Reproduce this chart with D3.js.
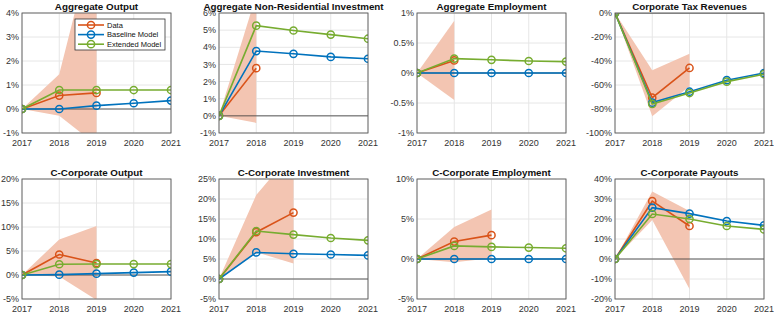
<!DOCTYPE html>
<html>
<head>
<meta charset="utf-8">
<script src="https://cdn.jsdelivr.net/npm/d3@7"></script>
<style>
  body { margin: 0; background: #fff; }
  svg { display: block; font-family: "Liberation Sans", Arial, sans-serif; }
</style>
</head>
<body>
<div id="chart"></div>
<script>
// years on the x axis
const years = [2017, 2018, 2019, 2020, 2021];

const titles = [
  "Aggregate Output", "Aggregate Non-Residential Investment", "Aggregate Employment", "Corporate Tax Revenues",
  "C-Corporate Output", "C-Corporate Investment", "C-Corporate Employment", "C-Corporate Payouts"
];

// y ranges and ticks (percent)
const yDomains = [[-1, 4], [-1, 6], [-1, 1], [-100, 0], [-5, 20], [-5, 25], [-5, 10], [-20, 40]];
const yTicks = [
  [-1, 0, 1, 2, 3, 4],
  [-1, 0, 1, 2, 3, 4, 5, 6],
  [-1, -0.5, 0, 0.5, 1],
  [-100, -80, -60, -40, -20, 0],
  [-5, 0, 5, 10, 15, 20],
  [-5, 0, 5, 10, 15, 20, 25],
  [-5, 0, 5, 10],
  [-20, -10, 0, 10, 20, 30, 40]
];

// Data series (starting 2017)
const dataVals = [
  [0, 0.56, 0.67],
  [0, 2.78],
  [0, 0.21],
  [0, -70.6, -45.8],
  [0, 4.27, 2.5],
  [0, 11.7, 16.6],
  [0, 2.18, 2.98],
  [0, 28.9, 16.5]
];
// confidence band for the data
const bandLo = [
  [0, -0.28, -1.5],
  [0, -0.41],
  [0, -0.45],
  [0, -86, -61],
  [0, -0.3, -5.2],
  [0, 6.7, 3.9],
  [0, -0.4, 0.1],
  [0, 19.5, -15]
];
const bandHi = [
  [0, 1.45, 7.6],
  [0, 7.05],
  [0, 0.87],
  [0, -47.8, -34],
  [0, 7.4, 10.2],
  [0, 21, 32],
  [0, 4.0, 6.2],
  [0, 33.8, 24]
];
const baseline = [
  [0, 0, 0.14, 0.24, 0.35],
  [0, 3.78, 3.62, 3.44, 3.33],
  [0, 0, 0, 0, 0],
  [0, -74.7, -65.6, -56, -50],
  [0, 0.07, 0.28, 0.5, 0.7],
  [0, 6.64, 6.3, 6.13, 5.9],
  [0, 0, 0, 0, 0],
  [0, 25.7, 22.7, 19, 16.8]
];
const extended = [
  [0, 0.79, 0.79, 0.79, 0.79],
  [0, 5.26, 4.98, 4.74, 4.5],
  [0, 0.24, 0.22, 0.2, 0.19],
  [0, -75.8, -66.7, -57.2, -51],
  [0, 2.24, 2.28, 2.28, 2.28],
  [0, 12.0, 11.1, 10.25, 9.66],
  [0, 1.64, 1.51, 1.43, 1.34],
  [0, 22.5, 20, 16.5, 14.8]
];

const seriesNames = ["Data", "Baseline Model", "Extended Model"];
const colors = ["#D95319", "#0072BD", "#77AC30"];

const width = 774, height = 313;
const colLeft = [22, 219, 417, 615];
const plotW = 149;
const rowTop = [13, 179];
const plotH = 120;

const svg = d3.select("#chart").append("svg")
    .attr("width", width)
    .attr("height", height);

titles.forEach((title, i) => {
  const col = i % 4, row = Math.floor(i / 4);
  const g = svg.append("g").attr("transform", `translate(${colLeft[col]},${rowTop[row]})`);

  const x = d3.scaleLinear().domain([2017, 2021]).range([0, plotW]);
  const y = d3.scaleLinear().domain(yDomains[i]).range([plotH, 0]);

  // clip
  g.append("clipPath").attr("id", "clip" + i)
    .append("rect").attr("width", plotW).attr("height", plotH);

  // grid
  g.append("g").selectAll("line").data(years).join("line")
    .attr("x1", d => x(d)).attr("x2", d => x(d))
    .attr("y1", 0).attr("y2", plotH)
    .attr("stroke", "#e6e6e6").attr("stroke-width", 1);
  g.append("g").selectAll("line").data(yTicks[i]).join("line")
    .attr("x1", 0).attr("x2", plotW)
    .attr("y1", d => y(d)).attr("y2", d => y(d))
    .attr("stroke", "#e6e6e6").attr("stroke-width", 1);

  const plot = g.append("g").attr("clip-path", `url(#clip${i})`);

  // band
  const band = d3.area()
    .x((d, j) => x(years[j]))
    .y0((d, j) => y(bandLo[i][j]))
    .y1(d => y(d));
  plot.append("path")
    .datum(bandHi[i])
    .attr("d", band)
    .attr("fill", "#F3C5B2");

  // zero line
  plot.append("line")
    .attr("x1", 0).attr("x2", plotW)
    .attr("y1", y(0)).attr("y2", y(0))
    .attr("stroke", "#333").attr("stroke-width", 0.8);

  const line = d3.line().x((d, j) => x(years[j])).y(d => y(d));
  const series = [dataVals[i], baseline[i], extended[i]];
  series.forEach((vals, s) => {
    const sg = plot.append("g");
    sg.append("path")
      .datum(vals)
      .attr("d", line)
      .attr("fill", "none")
      .attr("stroke", colors[s])
      .attr("stroke-width", 1.6);
    sg.selectAll("circle").data(vals).join("circle")
      .attr("cx", (d, j) => x(years[j]))
      .attr("cy", d => y(d))
      .attr("r", 3.6)
      .attr("fill", "none")
      .attr("stroke", colors[s])
      .attr("stroke-width", 1.5);
  });

  // axes box
  g.append("rect")
    .attr("width", plotW).attr("height", plotH)
    .attr("fill", "none")
    .attr("stroke", "#5a5a5a").attr("stroke-width", 0.9);

  // tick labels
  g.append("g").selectAll("text").data(years).join("text")
    .attr("x", d => x(d))
    .attr("y", plotH + 12.5)
    .attr("text-anchor", "middle")
    .attr("font-size", 9)
    .attr("fill", "#333")
    .text(d => d);
  g.append("g").selectAll("text").data(yTicks[i]).join("text")
    .attr("x", -3)
    .attr("y", d => y(d) + 3.2)
    .attr("text-anchor", "end")
    .attr("font-size", 9)
    .attr("fill", "#333")
    .text(d => d + "%");

  // title
  g.append("text")
    .attr("x", plotW / 2)
    .attr("y", -3.5)
    .attr("text-anchor", "middle")
    .attr("font-size", 9.8)
    .attr("font-weight", "bold")
    .attr("fill", "#111")
    .text(title);
});

// legend in the first panel
const leg = svg.append("g").attr("transform", "translate(75,19)");
leg.append("rect")
  .attr("width", 90).attr("height", 31)
  .attr("fill", "#fff")
  .attr("stroke", "#333").attr("stroke-width", 0.8);
seriesNames.forEach((name, s) => {
  const ly = 6 + s * 9.6;
  leg.append("line")
    .attr("x1", 3).attr("x2", 29)
    .attr("y1", ly).attr("y2", ly)
    .attr("stroke", colors[s]).attr("stroke-width", 1.6);
  leg.append("circle")
    .attr("cx", 16).attr("cy", ly).attr("r", 3.6)
    .attr("fill", "none")
    .attr("stroke", colors[s]).attr("stroke-width", 1.5);
  leg.append("text")
    .attr("x", 32).attr("y", ly + 2.6)
    .attr("font-size", 7.5)
    .attr("fill", "#111")
    .text(name);
});
</script>
</body>
</html>
